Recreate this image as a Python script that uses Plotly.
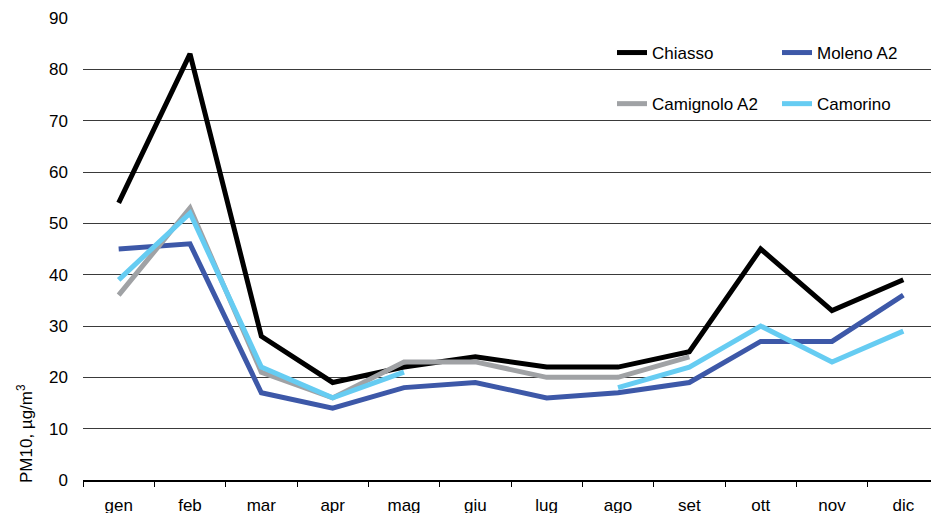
import plotly.graph_objects as go

months = ["gen", "feb", "mar", "apr", "mag", "giu", "lug", "ago", "set", "ott", "nov", "dic"]
chiasso = [54, 83, 28, 19, 22, 24, 22, 22, 25, 45, 33, 39]
moleno = [45, 46, 17, 14, 18, 19, 16, 17, 19, 27, 27, 36]
camignolo = [36, 53, 21, 16, 23, 23, 20, 20, 24, None, None, None]
camorino = [39, 52, 22, 16, 21, None, None, 18, 22, 30, 23, 29]
y_ticks = [0, 10, 20, 30, 40, 50, 60, 70, 80, 90]

FONT = "Liberation Sans, Arial, sans-serif"

series = [
    ("Chiasso", chiasso, "#000000", "legend"),
    ("Moleno A2", moleno, "#3D58A8", "legend2"),
    ("Camignolo A2", camignolo, "#A0A2A5", "legend"),
    ("Camorino", camorino, "#66CCF2", "legend2"),
]

fig = go.Figure()
for name, vals, color, leg in series:
    fig.add_trace(go.Scatter(
        x=months, y=vals, name=name, mode="lines",
        line=dict(color=color, width=5),
        connectgaps=False, legend=leg, legendgroup=name,
    ))

# plot area: 856 x 462 px
PW, PH = 856, 462

# white box behind the legend (hides gridlines there)
fig.add_shape(type="rect", xref="paper", yref="paper",
              x0=(607 - 83) / PW, x1=1.0,
              y0=(480 - 127) / PH, y1=(480 - 22) / PH,
              fillcolor="white", line=dict(width=0), layer="between")

legend_common = dict(
    orientation="v", yanchor="top", xanchor="left",
    bgcolor="rgba(0,0,0,0)", borderwidth=0,
    font=dict(family=FONT, size=17, color="#000000"),
    tracegroupgap=26,
)

fig.update_layout(
    width=939, height=513,
    margin=dict(l=75, r=8, t=10, b=41, autoexpand=False),
    paper_bgcolor="white", plot_bgcolor="white",
    font=dict(family=FONT, size=17, color="#000000"),
    legend=dict(x=(612 - 83) / PW, y=(480 - 35) / PH, **legend_common),
    legend2=dict(x=(777 - 83) / PW, y=(480 - 35) / PH, **legend_common),
    xaxis=dict(
        type="category", range=[-0.5, 11.5], automargin=False,
        showgrid=False, showline=True, linecolor="#000000", linewidth=2,
        ticks="outside", tickson="boundaries", ticklen=5, tickcolor="#000000",
        tickwidth=1, ticklabelstandoff=9,
        tickfont=dict(family=FONT, size=17, color="#000000"),
    ),
    yaxis=dict(
        range=[0, 90], tickvals=y_ticks, automargin=False,
        showgrid=True, gridcolor="#3a3a3a", gridwidth=1,
        zeroline=False, showline=False, ticks="",
        ticklabelstandoff=14,
        tickfont=dict(family=FONT, size=17, color="#000000"),
    ),
    annotations=[dict(
        text="PM10, µg/m<sup>3</sup>", textangle=-90,
        xref="paper", yref="paper",
        x=(25 - 83) / PW, y=(480 - 434) / PH,
        xanchor="center", yanchor="middle", showarrow=False,
        font=dict(family=FONT, size=17, color="#000000"),
    )],
)

fig.write_html("out.html")
